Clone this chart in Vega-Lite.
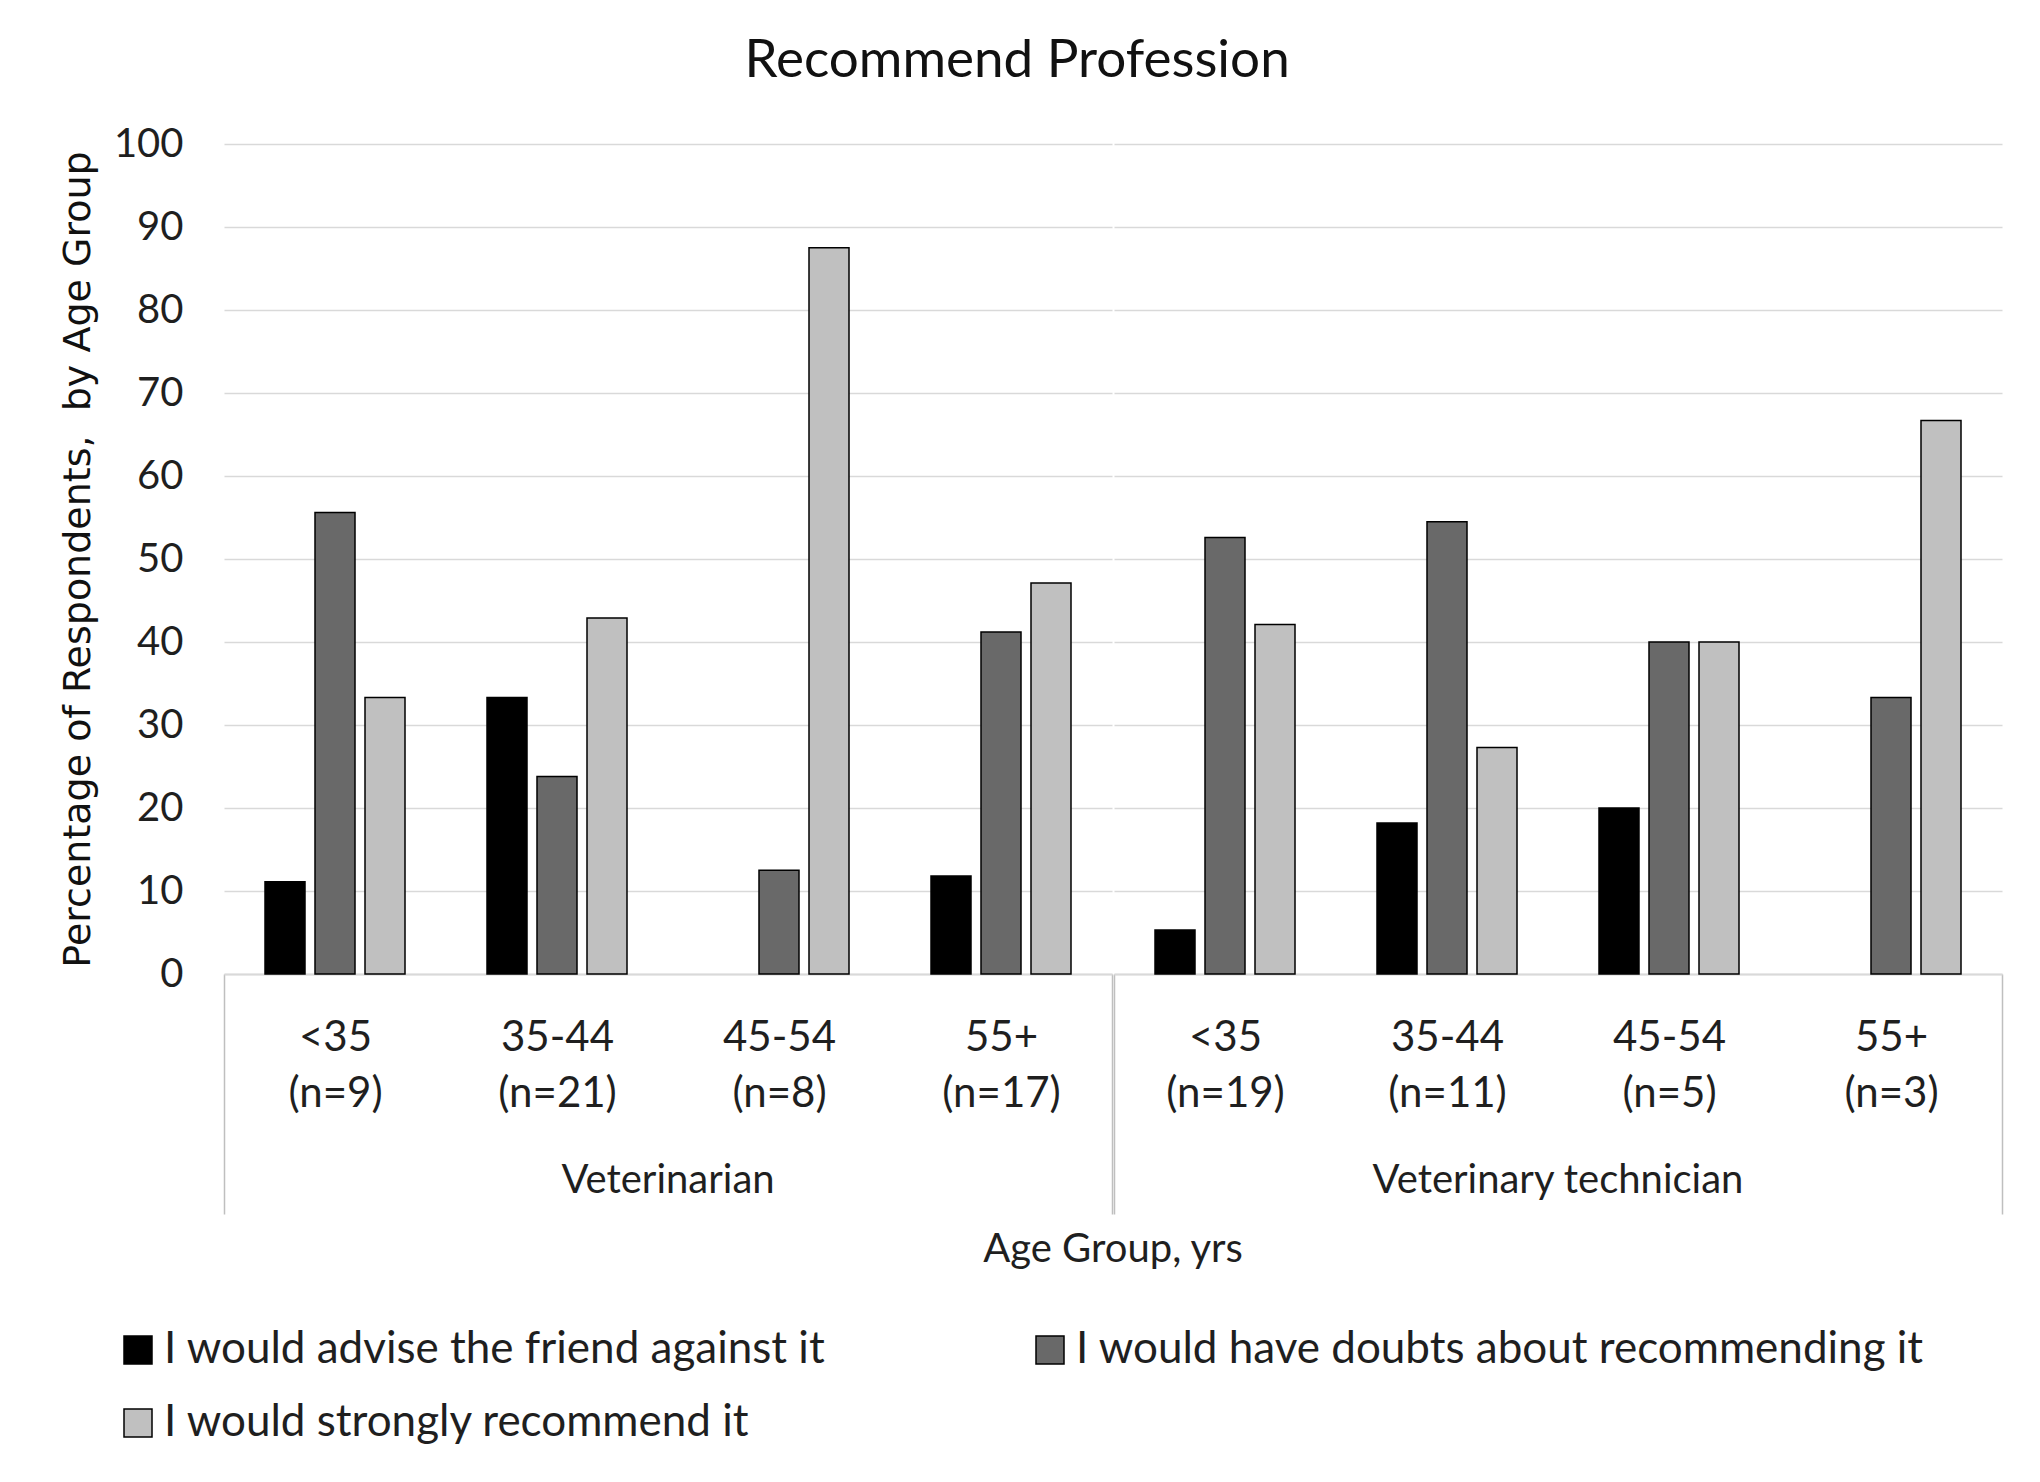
{
  "$schema": "https://vega.github.io/schema/vega-lite/v6.json",
  "padding": {"left": 59, "top": 35, "right": 36, "bottom": 30},
  "background": "white",
  "title": {"text": "Recommend Profession", "fontSize": 53, "font": "Lato", "fontWeight": "normal", "color": "#111111", "offset": 36, "anchor": "middle", "dx": -14},
  "data": {"values": [
    {"profession": "Veterinarian", "age": "<35|(n=9)", "response": "I would advise the friend against it", "pct": 11.1},
    {"profession": "Veterinarian", "age": "<35|(n=9)", "response": "I would have doubts about recommending it", "pct": 55.6},
    {"profession": "Veterinarian", "age": "<35|(n=9)", "response": "I would strongly recommend it", "pct": 33.3},
    {"profession": "Veterinarian", "age": "35-44|(n=21)", "response": "I would advise the friend against it", "pct": 33.3},
    {"profession": "Veterinarian", "age": "35-44|(n=21)", "response": "I would have doubts about recommending it", "pct": 23.8},
    {"profession": "Veterinarian", "age": "35-44|(n=21)", "response": "I would strongly recommend it", "pct": 42.9},
    {"profession": "Veterinarian", "age": "45-54|(n=8)", "response": "I would advise the friend against it", "pct": 0},
    {"profession": "Veterinarian", "age": "45-54|(n=8)", "response": "I would have doubts about recommending it", "pct": 12.5},
    {"profession": "Veterinarian", "age": "45-54|(n=8)", "response": "I would strongly recommend it", "pct": 87.5},
    {"profession": "Veterinarian", "age": "55+|(n=17)", "response": "I would advise the friend against it", "pct": 11.8},
    {"profession": "Veterinarian", "age": "55+|(n=17)", "response": "I would have doubts about recommending it", "pct": 41.2},
    {"profession": "Veterinarian", "age": "55+|(n=17)", "response": "I would strongly recommend it", "pct": 47.1},
    {"profession": "Veterinary technician", "age": "<35|(n=19)", "response": "I would advise the friend against it", "pct": 5.3},
    {"profession": "Veterinary technician", "age": "<35|(n=19)", "response": "I would have doubts about recommending it", "pct": 52.6},
    {"profession": "Veterinary technician", "age": "<35|(n=19)", "response": "I would strongly recommend it", "pct": 42.1},
    {"profession": "Veterinary technician", "age": "35-44|(n=11)", "response": "I would advise the friend against it", "pct": 18.2},
    {"profession": "Veterinary technician", "age": "35-44|(n=11)", "response": "I would have doubts about recommending it", "pct": 54.5},
    {"profession": "Veterinary technician", "age": "35-44|(n=11)", "response": "I would strongly recommend it", "pct": 27.3},
    {"profession": "Veterinary technician", "age": "45-54|(n=5)", "response": "I would advise the friend against it", "pct": 20},
    {"profession": "Veterinary technician", "age": "45-54|(n=5)", "response": "I would have doubts about recommending it", "pct": 40},
    {"profession": "Veterinary technician", "age": "45-54|(n=5)", "response": "I would strongly recommend it", "pct": 40},
    {"profession": "Veterinary technician", "age": "55+|(n=3)", "response": "I would advise the friend against it", "pct": 0},
    {"profession": "Veterinary technician", "age": "55+|(n=3)", "response": "I would have doubts about recommending it", "pct": 33.3},
    {"profession": "Veterinary technician", "age": "55+|(n=3)", "response": "I would strongly recommend it", "pct": 66.7}
  ]},
  "facet": {
    "column": {
      "field": "profession", "type": "nominal", "sort": ["Veterinarian", "Veterinary technician"],
      "header": {
        "labelOrient": "bottom", "labelFontSize": 40, "labelFont": "Lato", "labelColor": "#1f1f1f", "labelPadding": -137,
        "title": "Age Group, yrs", "titleOrient": "bottom", "titleFontSize": 40, "titleFont": "Lato", "titleFontWeight": "normal", "titleColor": "#1f1f1f", "titlePadding": -78
      }
    }
  },
  "spacing": 0,
  "resolve": {"scale": {"x": "independent", "xOffset": "independent"}},
  "spec": {
    "width": 888,
    "height": 830,
    "mark": {"type": "bar", "strokeWidth": 1.5},
    "encoding": {
      "x": {
        "field": "age", "type": "nominal", "sort": null,
        "scale": {"paddingInner": 0, "paddingOuter": 0},
        "axis": {
          "title": null, "labelExpr": "split(datum.label, '|')", "labelAngle": 0,
          "labelFontSize": 42, "labelFont": "Lato", "labelColor": "#1f1f1f", "labelLineHeight": 56,
          "labelPadding": {"condition": {"test": "isValid(datum.value) && indexof(datum.value, '55+') === 0", "value": -197}, "value": 43},
          "tickBand": "extent", "ticks": true,
          "tickSize": {"condition": {"test": "!isValid(datum.value) || indexof(datum.value, '55+') === 0", "value": 240}, "value": 0},
          "tickColor": "#bfbfbf", "tickWidth": 1.5,
          "domainColor": "#d9d9d9", "domainWidth": 2, "grid": false
        }
      },
      "xOffset": {
        "field": "response", "type": "nominal",
        "sort": ["I would advise the friend against it", "I would have doubts about recommending it", "I would strongly recommend it"],
        "scale": {"paddingInner": 0.2, "paddingOuter": 0.82}
      },
      "y": {
        "field": "pct", "type": "quantitative",
        "scale": {"domain": [0, 100], "nice": false},
        "title": "Percentage of Respondents,\u00a0 by Age Group",
        "axis": {
          "values": [0, 10, 20, 30, 40, 50, 60, 70, 80, 90, 100],
          "domain": false, "ticks": false, "labelPadding": 40,
          "labelFontSize": 40, "labelFont": "Lato", "labelColor": "#1f1f1f",
          "gridColor": "#d9d9d9", "gridWidth": 1.5,
          "titleFont": "DejaVu Sans", "titleFontSize": 38, "titleFontWeight": "normal", "titleColor": "#111111", "titlePadding": 16
        }
      },
      "color": {
        "field": "response", "type": "nominal",
        "scale": {
          "domain": ["I would advise the friend against it", "I would have doubts about recommending it", "I would strongly recommend it"],
          "range": ["#000000", "#696969", "#c0c0c0"]
        },
        "legend": {
          "title": null, "orient": "none", "legendX": -108, "legendY": 1184,
          "direction": "horizontal", "columns": 2,
          "symbolType": "square", "symbolSize": 784, "symbolStrokeColor": "#000000", "symbolStrokeWidth": 1.5, "symbolOpacity": 1,
          "labelFontSize": 44, "labelFont": "Lato", "labelColor": "#1f1f1f", "labelLimit": 1200, "labelOffset": 4,
          "columnPadding": 202, "rowPadding": 29
        }
      },
      "stroke": {"condition": {"test": "datum.pct === 0", "value": null}, "value": "#000000"}
    }
  },
  "config": {"view": {"stroke": null}}
}
